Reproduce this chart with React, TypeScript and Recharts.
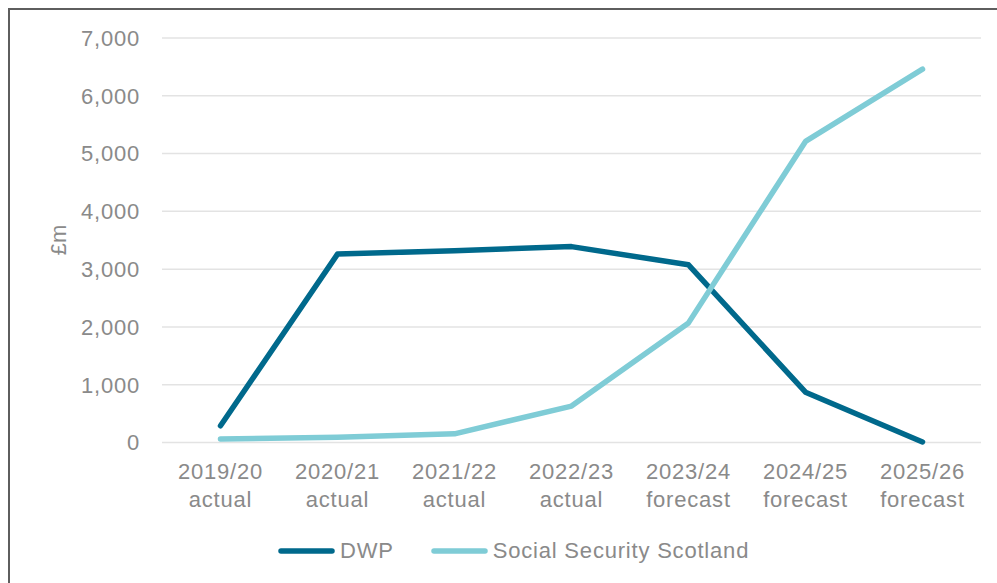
import { LineChart, Line, XAxis, YAxis, CartesianGrid, Legend, Label } from 'recharts';

// Financial years and their status
const years = ['2019/20', '2020/21', '2021/22', '2022/23', '2023/24', '2024/25', '2025/26'];
const status = ['actual', 'actual', 'actual', 'actual', 'forecast', 'forecast', 'forecast'];

// Spend in £m
const dwp = [290, 3260, 3320, 3390, 3075, 870, 10];
const socialSecurityScotland = [60, 90, 150, 630, 2070, 5210, 6460];

const yTicks = [0, 1000, 2000, 3000, 4000, 5000, 6000, 7000];

const DWP_COLOUR = '#00698C';
const SSS_COLOUR = '#7FCCD6';
const TEXT_COLOUR = '#8a8a8a';
const FONT = '"Liberation Sans", Arial, sans-serif';
const SPACING = 0.8;

const chartData = years.map((year, i) => ({
  year,
  status: status[i],
  dwp: dwp[i],
  sss: socialSecurityScotland[i],
}));

const series = [
  { key: 'dwp', name: 'DWP', colour: DWP_COLOUR },
  { key: 'sss', name: 'Social Security Scotland', colour: SSS_COLOUR },
];

const YearTick = (props: any) => {
  const { x, y, payload } = props;
  const row = chartData[payload.index];
  return (
    <text x={x} textAnchor="middle" fill={TEXT_COLOUR} fontSize={22} fontFamily={FONT} letterSpacing={SPACING}>
      <tspan x={x} y={y + 36.5}>{payload.value}</tspan>
      <tspan x={x} y={y + 64.5}>{row ? row.status : ''}</tspan>
    </text>
  );
};

const LegendContent = () => (
  <div style={{ display: 'flex', alignItems: 'center', height: 30, paddingLeft: 278 }}>
    {series.map((s, i) => (
      <div key={s.key} style={{ display: 'flex', alignItems: 'center', marginRight: i === 0 ? 37 : 0 }}>
        <svg width={57} height={8} style={{ marginRight: 5 }}>
          <line x1={3} y1={4} x2={54} y2={4} stroke={s.colour} strokeWidth={5.5} strokeLinecap="round" />
        </svg>
        <span
          style={{
            color: TEXT_COLOUR,
            fontSize: 22,
            fontFamily: FONT,
            lineHeight: '30px',
            letterSpacing: SPACING,
          }}
        >
          {s.name}
        </span>
      </div>
    ))}
  </div>
);

export default function App() {
  return (
    <div style={{ position: 'absolute', left: 0, top: 0, width: 997, height: 583, overflow: 'hidden', background: '#fff' }}>
      <div
        style={{
          position: 'absolute',
          left: 8,
          top: 8,
          width: 1100,
          height: 700,
          borderLeft: '2.5px solid #5e5e5e',
          borderTop: '2.5px solid #5e5e5e',
        }}
      />
      <LineChart
        width={997}
        height={583}
        data={chartData}
        margin={{ top: 38, right: 16, bottom: 40.5, left: 0 }}
        style={{ position: 'absolute', left: 0, top: 0 }}
      >
        <CartesianGrid vertical={false} stroke="#e3e3e3" strokeWidth={1.5} />
        <XAxis
          dataKey="year"
          interval={0}
          height={70}
          padding={{ left: 58.5, right: 58.5 }}
          axisLine={false}
          tickLine={false}
          tickSize={0}
          tickMargin={0}
          tick={<YearTick />}
        />
        <YAxis
          width={162}
          domain={[0, 7000]}
          ticks={yTicks}
          axisLine={false}
          tickLine={false}
          tickSize={0}
          tickMargin={22}
          tickFormatter={(v: number) => v.toLocaleString('en-GB')}
          tick={{ fill: TEXT_COLOUR, fontSize: 22, fontFamily: FONT, letterSpacing: SPACING }}
        >
          <Label
            content={() => (
              <text
                x={58}
                y={240}
                transform="rotate(-90 58 240)"
                textAnchor="middle"
                dominantBaseline="central"
                fill={TEXT_COLOUR}
                fontSize={22}
                fontFamily={FONT}
              >
                £m
              </text>
            )}
          />
        </YAxis>
        <Legend
          verticalAlign="bottom"
          content={<LegendContent />}
          wrapperStyle={{ top: 536, left: 0, width: 997, height: 30 }}
        />
        {series.map((s) => (
          <Line
            key={s.key}
            type="linear"
            dataKey={s.key}
            name={s.name}
            stroke={s.colour}
            strokeWidth={5.5}
            strokeLinecap="round"
            strokeLinejoin="round"
            dot={false}
            activeDot={false}
            isAnimationActive={false}
          />
        ))}
      </LineChart>
    </div>
  );
}
